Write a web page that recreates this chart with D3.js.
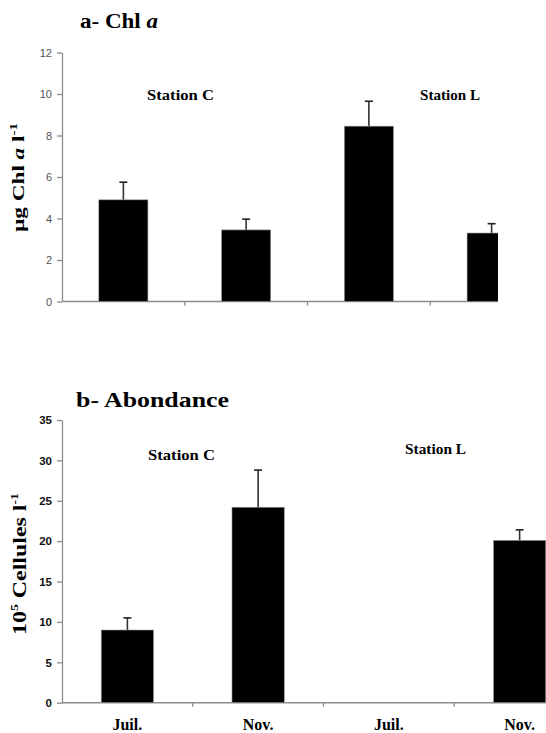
<!DOCTYPE html>
<html>
<head>
<meta charset="utf-8">
<script src="https://cdn.jsdelivr.net/npm/d3@7"></script>
<style>
  body { margin: 0; background: #fff; }
  svg { display: block; }
</style>
</head>
<body>
<div id="chart"></div>
<script>
// categories (station / month)
const categories = ["C-Juil", "C-Nov", "L-Juil", "L-Nov"]
const monthLabels = ["Juil.", "Nov.", "Juil.", "Nov."]

// a- Chl a (µg l-1), mean and error bar top
const chlMean = [4.9, 3.45, 8.45, 3.3]
const chlTop = [5.75, 3.97, 9.65, 3.75]
const chlTicks = [0, 2, 4, 6, 8, 10, 12]

// b- Abondance (10^5 cellules l-1), no sample for station L in July
const abMean = [9.0, 24.2, null, 20.1]
const abTop = [10.5, 28.8, null, 21.4]
const abTicks = [0, 5, 10, 15, 20, 25, 30, 35]

const width = 546, height = 733
const serif = "'Liberation Serif', 'DejaVu Serif', serif"
const sans = "'Liberation Sans', Arial, sans-serif"

const svg = d3.select("#chart").append("svg")
    .attr("width", width)
    .attr("height", height)

svg.append("defs").append("clipPath")
    .attr("id", "clipA")
  .append("rect")
    .attr("x", 0).attr("y", 0)
    .attr("width", 498).attr("height", 360)

// draw one bar panel
function drawPanel(opt) {
    const g = svg.append("g")
    if (opt.clip) g.attr("clip-path", "url(#" + opt.clip + ")")

    const x = d3.scaleBand()
        .domain(categories)
        .range(opt.xRange)
        .paddingInner(0.6)
        .paddingOuter(0.3)

    const y = d3.scaleLinear()
        .domain([0, d3.max(opt.ticks)])
        .range(opt.yRange)

    // y axis
    const yAxis = g.append("g")
        .attr("transform", `translate(${opt.xRange[0]},0)`)
        .call(d3.axisLeft(y).tickValues(opt.ticks).tickSize(5).tickSizeOuter(0).tickPadding(5))
    yAxis.select(".domain").attr("stroke", "#8c8c8c").attr("stroke-width", 1.3)
    yAxis.selectAll(".tick line").attr("stroke", "#8c8c8c").attr("stroke-width", 1.3)
    yAxis.selectAll(".tick text")
        .attr("font-family", sans)
        .attr("font-size", opt.tickFont)
        .attr("font-weight", opt.tickWeight)
        .attr("fill", opt.tickColor)

    // x axis line and separators between categories
    const y0 = y(0)
    g.append("line")
        .attr("x1", opt.xRange[0]).attr("x2", opt.xRange[1])
        .attr("y1", y0).attr("y2", y0)
        .attr("stroke", "#8c8c8c").attr("stroke-width", 1.5)
    const step = x.step()
    g.selectAll(".sep")
        .data(categories.slice(0, 3))
        .join("line")
        .attr("x1", d => x(d) + x.bandwidth() + step * 0.3)
        .attr("x2", d => x(d) + x.bandwidth() + step * 0.3)
        .attr("y1", y0).attr("y2", y0 + 4)
        .attr("stroke", "#8c8c8c").attr("stroke-width", 1.3)

    const data = categories.map((c, i) => ({ cat: c, v: opt.mean[i], top: opt.top[i] }))
        .filter(d => d.v != null)

    // error bars
    g.selectAll(".err")
        .data(data)
        .join("line")
        .attr("x1", d => x(d.cat) + x.bandwidth() / 2)
        .attr("x2", d => x(d.cat) + x.bandwidth() / 2)
        .attr("y1", d => y(d.v))
        .attr("y2", d => y(d.top))
        .attr("stroke", "#333").attr("stroke-width", 1.6)
    g.selectAll(".cap")
        .data(data)
        .join("line")
        .attr("x1", d => x(d.cat) + x.bandwidth() / 2 - 4)
        .attr("x2", d => x(d.cat) + x.bandwidth() / 2 + 4)
        .attr("y1", d => y(d.top))
        .attr("y2", d => y(d.top))
        .attr("stroke", "#222").attr("stroke-width", 1.6)

    // bars
    g.selectAll(".bar")
        .data(data)
        .join("rect")
        .attr("x", d => x(d.cat))
        .attr("width", x.bandwidth())
        .attr("y", d => y(d.v))
        .attr("height", d => y0 - y(d.v))
        .attr("fill", "#000")
        .attr("stroke", "#9a9a9a")
        .attr("stroke-width", 0.6)

    return { x, y }
}

// text helper, stretched to the measured width
function label(txt, x, y, size, length, anchor) {
    const t = svg.append("text")
        .attr("x", x).attr("y", y)
        .attr("font-family", serif)
        .attr("font-weight", "bold")
        .attr("font-size", size)
        .attr("text-anchor", anchor || "start")
        .attr("fill", "#000")
    if (length) t.attr("textLength", length).attr("lengthAdjust", "spacingAndGlyphs")
    return t.text(txt)
}

// ---- panel a ----
drawPanel({
    xRange: [62, 553], yRange: [301.5, 52.5],
    ticks: chlTicks, mean: chlMean, top: chlTop,
    clip: "clipA", tickFont: 11, tickWeight: "normal", tickColor: "#555"
})

const titleA = svg.append("text")
    .attr("x", 80).attr("y", 28)
    .attr("font-family", serif).attr("font-weight", "bold").attr("font-size", 20)
    .attr("textLength", 78).attr("lengthAdjust", "spacingAndGlyphs")
titleA.append("tspan").text("a- Chl ")
titleA.append("tspan").attr("font-style", "italic").text("a")

label("Station C", 147, 100, 14, 67)
label("Station L", 420, 100, 14, 60)

const yLabA = svg.append("text")
    .attr("transform", "translate(24,232) rotate(-90)")
    .attr("font-family", serif).attr("font-weight", "bold").attr("font-size", 17)
    .attr("textLength", 109).attr("lengthAdjust", "spacingAndGlyphs")
yLabA.append("tspan").text("µg  Chl ")
yLabA.append("tspan").attr("font-style", "italic").text("a")
yLabA.append("tspan").text("  l")
yLabA.append("tspan").attr("font-size", 11).attr("dy", -7).text("-1")

// ---- panel b ----
const b = drawPanel({
    xRange: [62, 585], yRange: [702.7, 420],
    ticks: abTicks, mean: abMean, top: abTop,
    clip: null, tickFont: 11.5, tickWeight: "bold", tickColor: "#111"
})

svg.append("text")
    .attr("x", 76).attr("y", 407)
    .attr("font-family", serif).attr("font-weight", "bold").attr("font-size", 21)
    .attr("textLength", 153).attr("lengthAdjust", "spacingAndGlyphs")
    .text("b- Abondance")

label("Station C", 148, 460, 14, 67)
label("Station L", 405, 454, 14, 61)

const yLabB = svg.append("text")
    .attr("transform", "translate(26,635) rotate(-90)")
    .attr("font-family", serif).attr("font-weight", "bold").attr("font-size", 19)
    .attr("textLength", 142).attr("lengthAdjust", "spacingAndGlyphs")
yLabB.append("tspan").text("10")
yLabB.append("tspan").attr("font-size", 11).attr("dy", -8).text("5")
yLabB.append("tspan").attr("dy", 8).text(" Cellules  l")
yLabB.append("tspan").attr("font-size", 11).attr("dy", -8).text("-1")

// month labels under panel b
svg.selectAll(".month")
    .data(categories)
    .join("text")
    .attr("x", d => b.x(d) + b.x.bandwidth() / 2)
    .attr("y", 730)
    .attr("text-anchor", "middle")
    .attr("font-family", serif).attr("font-weight", "bold").attr("font-size", 16)
    .text((d, i) => monthLabels[i])
</script>
</body>
</html>
